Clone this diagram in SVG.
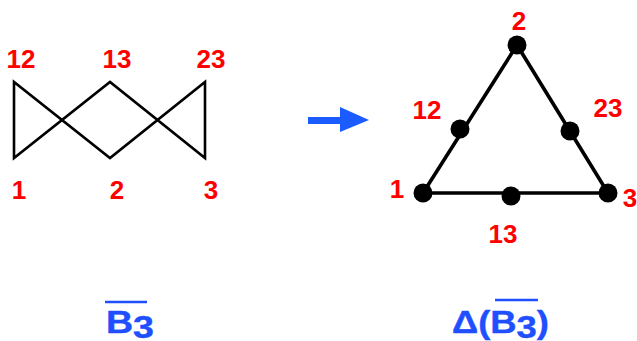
<svg xmlns="http://www.w3.org/2000/svg" width="637" height="341" viewBox="0 0 637 341">
<style>
.lbl{font-family:"Liberation Sans",Arial,sans-serif;font-weight:bold;font-size:26px;fill:#ff0000;text-anchor:middle}
.ttl{font-family:"Liberation Sans",Arial,sans-serif;font-weight:bold;font-size:31px;fill:#1f4fff;stroke:#1f4fff;stroke-width:0.4}
.edge{fill:none;stroke:#000;stroke-linejoin:miter;stroke-linecap:butt}
.dot{fill:#000}
.bar{stroke:#1f4fff;stroke-width:2.5}
</style>
<rect width="637" height="341" fill="#fff"/>
<g id="connectors">
<path class="edge" stroke-width="2.6" d="M14,82 L14,158 L110,82 L205,158 L205,82 L110,158 Z"/>
<path class="edge" stroke-width="3.6" d="M423,193 L517,45 L608,193 Z"/>
</g>
<g id="left-12"><text class="lbl" x="21" y="68">12</text></g>
<g id="left-13"><text class="lbl" x="117" y="68">13</text></g>
<g id="left-23"><text class="lbl" x="211" y="68">23</text></g>
<g id="left-1"><text class="lbl" x="19" y="199">1</text></g>
<g id="left-2"><text class="lbl" x="117" y="199">2</text></g>
<g id="left-3"><text class="lbl" x="211" y="199">3</text></g>
<g id="arrow">
<rect x="308" y="117" width="34" height="7" fill="#1a5cff"/>
<polygon points="340,107 369,120 340,132" fill="#1a5cff"/>
</g>
<g id="node-2"><circle class="dot" cx="517" cy="45" r="9.5"/><text class="lbl" x="519" y="30">2</text></g>
<g id="node-12"><circle class="dot" cx="460" cy="129" r="9.5"/><text class="lbl" x="427" y="119">12</text></g>
<g id="node-23"><circle class="dot" cx="570" cy="131" r="9.5"/><text class="lbl" x="608" y="117">23</text></g>
<g id="node-1"><circle class="dot" cx="423" cy="193" r="9.5"/><text class="lbl" x="397" y="198">1</text></g>
<g id="node-3"><circle class="dot" cx="608" cy="193" r="9.5"/><text class="lbl" x="630" y="207">3</text></g>
<g id="node-13"><circle class="dot" cx="511" cy="196" r="9.5"/><text class="lbl" x="503" y="243">13</text></g>
<g id="title-left">
<line class="bar" x1="105" y1="302" x2="147" y2="302"/>
<text class="ttl" x="106" y="333" textLength="48" lengthAdjust="spacingAndGlyphs">B<tspan dy="5">3</tspan></text>
</g>
<g id="title-right">
<line class="bar" x1="495" y1="300" x2="538" y2="300"/>
<text class="ttl" x="452" y="333" textLength="97" lengthAdjust="spacingAndGlyphs">Δ(B<tspan dy="5">3</tspan><tspan dy="-5">)</tspan></text>
</g>
</svg>
